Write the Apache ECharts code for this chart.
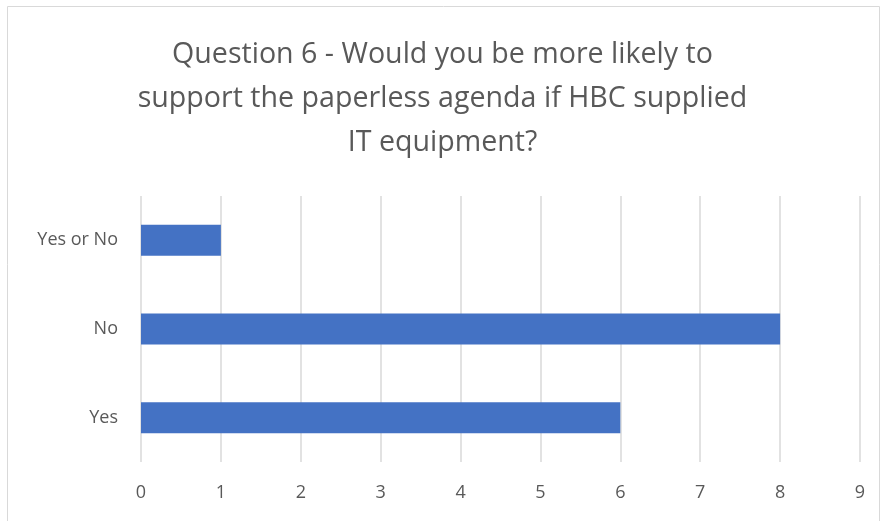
<!DOCTYPE html>
<html><head><meta charset="utf-8">
<script src="https://cdn.jsdelivr.net/npm/echarts@6/dist/echarts.min.js"></script>
<style>html,body{margin:0;padding:0;background:#fff}#c{width:885px;height:521px}</style>
</head><body><div id="c"></div>
<script>
const categories = ['Yes', 'No', 'Yes or No'];
const values = [6, 8, 1];
const xTicks = [0, 1, 2, 3, 4, 5, 6, 7, 8, 9];
const titleText = 'Question 6 - Would you be more likely to\nsupport the paperless agenda if HBC supplied\nIT equipment?';

const chart = echarts.init(document.getElementById('c'));
chart.setOption({
  animation: false,
  graphic: [{type: 'rect', shape: {x: 7.5, y: 6.5, width: 872, height: 520}, style: {fill: 'none', stroke: '#d9d9d9', lineWidth: 1}}],
  title: {text: titleText, left: 'center', top: 28, textStyle: {fontFamily: 'Open Sans', fontSize: 28.6, fontWeight: 'normal', color: '#595959', lineHeight: 44}},
  grid: {left: 141, right: 25, top: 196, bottom: 59, containLabel: false},
  xAxis: {type: 'value', min: xTicks[0], max: xTicks[xTicks.length - 1], interval: 1,
    axisLine: {show: false}, axisTick: {show: false},
    axisLabel: {fontFamily: 'Open Sans', fontSize: 18, color: '#595959', margin: 22},
    splitLine: {lineStyle: {color: '#d9d9d9', width: 1.5}}},
  yAxis: {type: 'category', data: categories,
    axisLine: {show: false}, axisTick: {show: false},
    axisLabel: {fontFamily: 'Open Sans', fontSize: 18, color: '#595959', margin: 23}},
  series: [{type: 'bar', data: values, barWidth: 31, itemStyle: {color: '#4472c4'}}]
});
</script></body></html>
